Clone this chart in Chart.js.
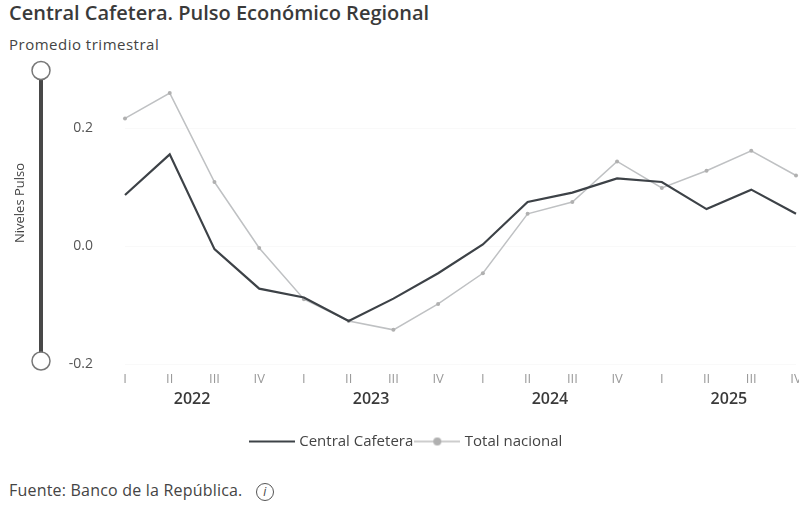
<!DOCTYPE html>
<html>
<head>
<meta charset="utf-8">
<script src="https://cdn.jsdelivr.net/npm/chart.js@4"></script>
<style>
  body { margin: 0; width: 799px; height: 508px; overflow: hidden; background: #fff; font-family: "Open Sans", sans-serif; position: relative; }
  .title { position: absolute; left: 9px; top: -1px; font-size: 20px; font-weight: 600; color: #3a3a3a; }
  .subtitle { position: absolute; left: 9px; top: 34px; font-size: 15px; letter-spacing: 0.5px; color: #444; }
  .footer { position: absolute; left: 9px; top: 479px; font-size: 16px; letter-spacing: 0.2px; color: #444; }
  .info { display: inline-block; width: 16px; height: 16px; border: 1.3px solid #555; border-radius: 50%; text-align: center; line-height: 16px; font-size: 12px; font-style: italic; margin-left: 9px; vertical-align: middle; }
  #wrap { position: absolute; left: 0; top: 0; width: 812px; height: 470px; }
</style>
</head>
<body>
<div class="title">Central Cafetera. Pulso Económico Regional</div>
<div class="subtitle">Promedio trimestral</div>
<div id="wrap"><canvas id="chart"></canvas></div>
<div class="footer">Fuente: Banco de la República. <span class="info">i</span></div>
<script>
const quarters = ['I', 'II', 'III', 'IV', 'I', 'II', 'III', 'IV', 'I', 'II', 'III', 'IV', 'I', 'II', 'III', 'IV']
const years = ['2022', '2023', '2024', '2025']
const centralCafetera = [0.087, 0.156, -0.005, -0.072, -0.087, -0.127, -0.089, -0.046, 0.003, 0.075, 0.091, 0.115, 0.109, 0.063, 0.096, 0.055]
const totalNacional = [0.217, 0.260, 0.109, -0.003, -0.090, -0.127, -0.142, -0.098, -0.046, 0.055, 0.075, 0.144, 0.099, 0.128, 0.162, 0.120]
const yTicks = [-0.2, 0, 0.2]

function legendIcon(withDot) {
  const c = document.createElement('canvas')
  c.width = 46; c.height = 12
  const g = c.getContext('2d')
  g.strokeStyle = withDot ? '#bdbdbd' : '#3d4247'
  g.lineWidth = withDot ? 1.5 : 2
  g.beginPath(); g.moveTo(0, 6); g.lineTo(46, 6); g.stroke()
  if (withDot) {
    g.fillStyle = '#b0b0b0'
    g.beginPath(); g.arc(23, 6, 4, 0, Math.PI * 2); g.fill()
  }
  return c
}

// years under the quarter labels, axis title and range slider on the left
const extras = {
  id: 'extras',
  afterDraw(chart) {
    const ctx = chart.ctx
    const x = chart.scales.x
    const a = chart.chartArea
    ctx.save()
    ctx.font = '600 16px "Open Sans"'
    ctx.fillStyle = '#3a3a3a'
    ctx.textAlign = 'center'
    ctx.textBaseline = 'middle'
    years.forEach((yr, i) => {
      const px = (x.getPixelForValue(i * 4 + 1) + x.getPixelForValue(i * 4 + 2)) / 2
      ctx.fillText(yr, px, a.bottom + 35)
    })
    ctx.save()
    ctx.translate(20, 203)
    ctx.rotate(-Math.PI / 2)
    ctx.font = '13px "Open Sans"'
    ctx.fillStyle = '#444'
    ctx.fillText('Niveles Pulso', 0, 0)
    ctx.restore()
    ctx.strokeStyle = '#484848'
    ctx.lineWidth = 4
    ctx.beginPath(); ctx.moveTo(41, a.top + 1); ctx.lineTo(41, a.bottom - 3); ctx.stroke()
    ctx.lineWidth = 1.5
    ctx.strokeStyle = '#777'
    ctx.fillStyle = '#fff'
    ;[a.top + 1, a.bottom - 3].forEach(cy => {
      ctx.beginPath(); ctx.arc(41, cy, 9, 0, Math.PI * 2); ctx.fill(); ctx.stroke()
    })
    ctx.restore()
  }
}

new Chart(document.getElementById('chart'), {
  type: 'line',
  data: {
    labels: quarters,
    datasets: [
      {
        label: 'Central Cafetera',
        data: centralCafetera,
        borderColor: '#3d4247',
        borderWidth: 2.2,
        pointRadius: 0,
        tension: 0
      },
      {
        label: 'Total nacional',
        data: totalNacional,
        borderColor: '#bfc1c3',
        borderWidth: 1.5,
        pointRadius: 2,
        pointBackgroundColor: '#b0b0b0',
        pointBorderWidth: 0,
        tension: 0,
        pointStyle: 'circle'
      }
    ]
  },
  options: {
    responsive: true,
    maintainAspectRatio: false,
    animation: false,
    layout: { padding: { left: 18, right: 16, top: 69.5, bottom: 11 } },
    plugins: {
      tooltip: { enabled: false },
      legend: {
        position: 'bottom',
        labels: {
          usePointStyle: true,
          pointStyleWidth: 40,
          padding: 4,
          color: '#444',
          font: { family: 'Open Sans', size: 15 },
          generateLabels(chart) {
            return chart.data.datasets.map((ds, i) => ({
              text: ds.label,
              pointStyle: legendIcon(i === 1),
              fillStyle: 'transparent',
              strokeStyle: 'transparent',
              lineWidth: 0,
              datasetIndex: i,
              fontColor: '#444'
            }))
          }
        }
      }
    },
    scales: {
      x: {
        grid: { display: false, drawTicks: false },
        border: { display: false },
        ticks: { color: '#9a9a9a', font: { family: 'Open Sans', size: 13 }, padding: 7, maxRotation: 0, autoSkip: false },
        afterFit(s) { s.height = 66; s.paddingLeft = 0; s.paddingRight = 0 }
      },
      y: {
        min: -0.2,
        max: 0.3,
        afterBuildTicks(s) { s.ticks = yTicks.map(v => ({ value: v })) },
        grid: { color: 'rgba(0,0,0,0.025)', drawTicks: false },
        border: { display: false },
        ticks: { color: '#555', font: { family: 'Open Sans', size: 14 }, padding: 32, callback: v => v.toFixed(1) },
        afterFit(s) { s.width = 107 }
      }
    }
  },
  plugins: [extras]
})
</script>
</body>
</html>
